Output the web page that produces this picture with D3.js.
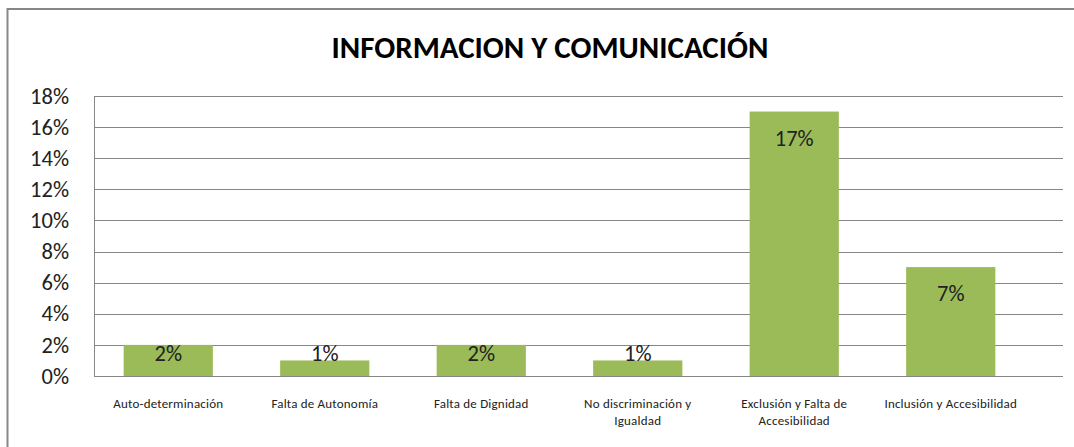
<!DOCTYPE html>
<html>
<head>
<meta charset="utf-8">
<script src="https://cdn.jsdelivr.net/npm/d3@7"></script>
<style>
  body { margin: 0; background: #fff; }
  text { font-family: Carlito, Calibri, "Open Sans", sans-serif; }
</style>
</head>
<body>
<div id="chart"></div>
<script>
// data
const categories = [
  ["Auto-determinación"],
  ["Falta de Autonomía"],
  ["Falta de Dignidad"],
  ["No discriminación  y", "Igualdad"],
  ["Exclusión y Falta de", "Accesibilidad"],
  ["Inclusión y Accesibilidad"]
];
const values = [2, 1, 2, 1, 17, 7];
const yTicks = [0, 2, 4, 6, 8, 10, 12, 14, 16, 18];
const title = "INFORMACION Y COMUNICACIÓN";

const width = 1074;
const height = 447;
const plot = { left: 94, right: 1063, top: 96, bottom: 376 };

const svg = d3.select("#chart")
  .append("svg")
  .attr("width", width)
  .attr("height", height);

// outer frame (right / bottom edges fall outside the picture)
svg.append("rect")
  .attr("x", 7.5).attr("y", 9)
  .attr("width", width + 10).attr("height", height + 10)
  .attr("fill", "#fff")
  .attr("stroke", "#878787")
  .attr("stroke-width", 2);

const x = d3.scaleBand()
  .domain(d3.range(categories.length))
  .range([90, 1029])
  .paddingInner(0.43)
  .paddingOuter(0.215);

const y = d3.scaleLinear()
  .domain([0, 18])
  .range([plot.bottom, plot.top]);

// gridlines
svg.append("g")
  .selectAll("line")
  .data(yTicks)
  .join("line")
  .attr("x1", plot.left)
  .attr("x2", plot.right)
  .attr("y1", d => Math.round(y(d)) + 0.5)
  .attr("y2", d => Math.round(y(d)) + 0.5)
  .attr("stroke", "#878787")
  .attr("stroke-width", 1);

// left edge of plot area
svg.append("line")
  .attr("x1", plot.left + 0.5).attr("x2", plot.left + 0.5)
  .attr("y1", plot.top).attr("y2", plot.bottom)
  .attr("stroke", "#878787");

// y axis labels
function yAxis(g) {
  g.attr("transform", `translate(${plot.left - 22}, 0)`)
    .call(d3.axisLeft(y).tickValues(yTicks).tickSize(0).tickFormat(d => d + "%"))
    .call(g => g.select(".domain").remove())
    .selectAll("text")
    .attr("font-family", 'Carlito, Calibri, "Open Sans", sans-serif')
    .attr("font-size", "22.5px")
    .attr("fill", "#222");
}
svg.append("g").call(yAxis);

// bars
svg.append("g")
  .selectAll("rect")
  .data(values)
  .join("rect")
  .attr("x", (d, i) => x(i))
  .attr("y", d => y(d))
  .attr("width", x.bandwidth())
  .attr("height", d => y(0) - y(d))
  .attr("fill", "#9BBB59");

// value labels
svg.append("g")
  .selectAll("text")
  .data(values)
  .join("text")
  .attr("x", (d, i) => x(i) + x.bandwidth() / 2)
  .attr("y", d => Math.min(y(d) + 34, y(0) - 15.5))
  .attr("text-anchor", "middle")
  .attr("font-size", "22.5px")
  .attr("fill", "#222")
  .text(d => d + "%");

// category labels
const cat = svg.append("g")
  .selectAll("text")
  .data(categories)
  .join("text")
  .attr("text-anchor", "middle")
  .attr("font-size", "13px")
  .attr("letter-spacing", "0.2px")
  .attr("fill", "#222");
cat.selectAll("tspan")
  .data((d, i) => d.map(t => ({ t, i })))
  .join("tspan")
  .attr("x", d => x(d.i) + x.bandwidth() / 2)
  .attr("y", (d, j) => 408 + j * 17)
  .text(d => d.t);

// title
svg.append("text")
  .attr("x", 550)
  .attr("y", 58)
  .attr("text-anchor", "middle")
  .attr("font-size", "31px")
  .attr("font-weight", "bold")
  .attr("fill", "#000")
  .text(title);
</script>
</body>
</html>
